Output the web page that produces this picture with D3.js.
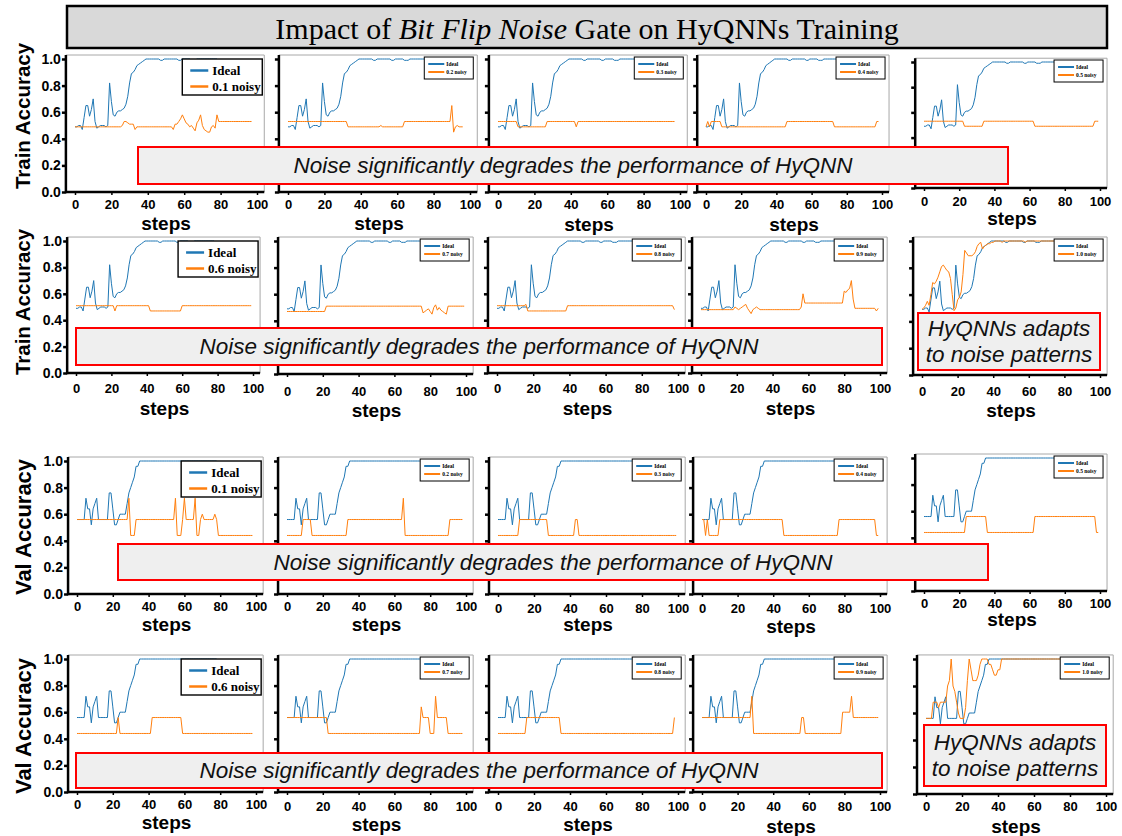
<!DOCTYPE html>
<html><head><meta charset="utf-8">
<script src="https://cdn.jsdelivr.net/npm/d3@7"></script>
<style>body{margin:0;background:#fff}svg{display:block}</style>
</head><body>
<svg id="c" width="1122" height="836"></svg>
<script>
// ---------------- DATA ----------------
const titleParts = ["Impact of ", "Bit Flip Noise", " Gate on HyQNNs Training"];
const yTicks = [0, 0.2, 0.4, 0.6, 0.8, 1.0];
const xTicks = [0, 20, 40, 60, 80, 100];
const noiseLevels = ["0.1","0.2","0.3","0.4","0.5","0.6","0.7","0.8","0.9","1.0"];
const metricLabels = ["Train Accuracy", "Val Accuracy"];
const xLabel = "steps";
const legendIdeal = "Ideal";
const annotationDegrade = "Noise significantly degrades the performance of HyQNN";
const annotationAdapt = ["HyQNNs adapts", "to noise patterns"];

const trainIdeal = [.49,.49,.50,.50,.47,.56,.65,.65,.57,.62,
.70,.53,.48,.49,.50,.50,.50,.49,.50,.82,
.68,.58,.57,.60,.61,.61,.62,.63,.66,.72,
.82,.89,.90,.92,.95,.96,.97,.98,.99,1,
1,1,1,1,1,1,1,.99,.99,1,
1,1,1,1,1,1,1,.99,.99,1,
1,1,1,1,.99,.99,.99,1,1,1,
1,1,1,1,1,1,1,1,1];

const valIdeal = [.56,.56,.56,.56,.56,.72,.64,.64,.52,.64,
.68,.72,.56,.56,.56,.56,.56,.56,.76,.76,
.64,.52,.52,.56,.60,.60,.60,.60,.68,.76,
.80,.84,.88,.96,.96,1,1,1,1,1,
1,1,1,1,1,1,1,1,1,1,
1,1,1,1,1,1,1,1,1,1,
1,1,1,1,1,1,1,1,1,1,
1,1,1,1,1,1,1,1,1];

const trainNoisy01 = [.49,.49,.49,.49,.49,.49,.49,.49,.49,.49,
.49,.49,.49,.49,.49,.49,.49,.49,.49,.49,
.49,.49,.49,.49,.49,.49,.50,.53,.53,.52,
.51,.51,.51,.47,.49,.49,.49,.49,.49,.49,
.49,.49,.49,.49,.49,.49,.49,.49,.49,.49,
.49,.49,.49,.49,.47,.51,.51,.53,.55,.58,
.55,.52,.51,.49,.50,.48,.46,.52,.54,.58,
.50,.47,.46,.45,.45,.49,.50,.48,.58,.53,
.53,.53,.53,.53,.53,.53,.53,.53,.53,.53,
.53,.53,.53,.53,.53,.53,.53,.53];

const trainNoisy02 = [.53,.53,.53,.53,.53,.53,.53,.53,.53,.53,
.53,.53,.53,.53,.53,.53,.53,.53,.53,.53,
.53,.53,.53,.53,.53,.53,.53,.53,.53,.53,
.53,.53,.53,.49,.49,.49,.49,.49,.49,.49,
.49,.49,.49,.49,.49,.49,.49,.49,.49,.49,
.49,.50,.49,.49,.49,.49,.49,.49,.49,.49,
.49,.49,.49,.49,.53,.53,.53,.53,.53,.53,
.53,.53,.53,.53,.53,.53,.53,.53,.53,.53,
.53,.53,.53,.53,.53,.53,.53,.53,.53,.53,
.65,.45,.49,.50,.49,.49,.49];

const trainNoisy03 = [.53,.53,.53,.53,.53,.53,.53,.53,.53,.53,
.53,.49,.49,.49,.49,.49,.49,.49,.49,.49,
.49,.49,.49,.49,.49,.49,.49,.53,.53,.53,
.53,.53,.53,.53,.53,.53,.53,.53,.53,.53,
.53,.53,.53,.49,.53,.53,.53,.53,.53,.53,
.53,.53,.53,.53,.53,.53,.53,.53,.53,.53,
.53,.53,.53,.53,.53,.53,.53,.53,.53,.53,
.53,.53,.53,.53,.53,.53,.53,.53,.53,.53,
.53,.53,.53,.53,.53,.53,.53,.53,.53,.53,
.53,.53,.53,.53,.53,.53,.53,.53];

const trainNoisy04 = [.49,.53,.49,.53,.53,.53,.53,.53,.53,.49,
.49,.49,.49,.49,.49,.49,.49,.49,.49,.49,
.49,.49,.49,.49,.49,.49,.49,.49,.49,.49,
.49,.49,.49,.49,.49,.49,.49,.49,.49,.49,
.49,.49,.49,.49,.49,.49,.53,.53,.53,.53,
.53,.53,.53,.53,.53,.53,.53,.53,.53,.53,
.53,.53,.53,.53,.53,.53,.53,.53,.53,.53,
.53,.53,.53,.49,.49,.49,.49,.49,.49,.49,
.49,.49,.49,.49,.49,.49,.49,.49,.49,.49,
.49,.49,.49,.49,.49,.49,.49,.53,.53];

const trainNoisy05 = [.53,.53,.53,.53,.53,.53,.53,.53,.53,.53,
.53,.53,.53,.53,.53,.53,.53,.53,.53,.53,
.53,.53,.53,.49,.49,.49,.49,.49,.49,.49,
.49,.49,.49,.49,.53,.53,.53,.53,.53,.53,
.53,.53,.53,.53,.53,.53,.53,.53,.53,.53,
.53,.53,.53,.53,.53,.53,.53,.53,.53,.53,
.53,.53,.53,.49,.49,.49,.49,.49,.49,.49,
.49,.49,.49,.49,.49,.49,.49,.49,.49,.49,
.49,.49,.49,.49,.49,.49,.49,.49,.49,.49,
.49,.49,.49,.49,.49,.49,.49,.53,.53,.53];

const trainNoisy06 = [.51,.51,.51,.51,.51,.51,.51,.51,.51,.51,
.51,.51,.51,.51,.51,.51,.51,.51,.51,.51,
.51,.51,.47,.51,.51,.51,.51,.51,.51,.51,
.51,.51,.51,.51,.51,.51,.51,.51,.51,.51,
.51,.51,.47,.47,.47,.47,.47,.47,.47,.47,
.47,.47,.47,.47,.47,.47,.47,.47,.47,.47,
.51,.51,.51,.51,.51,.51,.51,.51,.51,.51,
.51,.51,.51,.51,.51,.51,.51,.51,.51,.51,
.51,.51,.51,.51,.51,.51,.51,.51,.51,.51,
.51,.51,.51,.51,.51,.51,.51,.51,.51,.51];

const trainNoisy07 = [.47,.47,.47,.47,.47,.47,.47,.47,.47,.47,
.47,.47,.47,.47,.47,.47,.47,.47,.47,.47,
.47,.47,.51,.51,.51,.51,.51,.51,.51,.51,
.51,.51,.51,.51,.51,.51,.51,.51,.51,.51,
.51,.51,.51,.51,.51,.51,.51,.51,.51,.51,
.51,.51,.51,.51,.51,.51,.51,.51,.51,.51,
.51,.51,.51,.51,.51,.51,.51,.51,.51,.51,
.51,.51,.51,.51,.51,.51,.46,.47,.48,.49,
.47,.45,.50,.52,.48,.50,.48,.47,.46,.45,
.51,.51,.51,.51,.51,.51,.51,.51,.51,.51];

const trainNoisy08 = [.51,.51,.51,.51,.51,.51,.51,.51,.51,.51,
.51,.51,.51,.51,.51,.51,.52,.47,.47,.47,
.47,.47,.47,.47,.47,.47,.47,.47,.47,.47,
.47,.47,.47,.47,.47,.47,.47,.47,.47,.51,
.51,.51,.51,.51,.51,.51,.51,.51,.51,.51,
.51,.51,.51,.51,.51,.51,.51,.51,.51,.51,
.51,.51,.51,.51,.51,.51,.51,.51,.51,.51,
.51,.51,.51,.51,.51,.51,.51,.51,.51,.51,
.51,.51,.51,.51,.51,.51,.51,.51,.51,.51,
.51,.51,.51,.51,.51,.51,.51,.51,.48];

const trainNoisy09 = [.48,.48,.48,.48,.48,.48,.48,.48,.48,.48,
.48,.48,.48,.48,.48,.48,.48,.48,.48,.50,
.49,.48,.49,.50,.51,.52,.49,.47,.45,.48,
.49,.50,.49,.48,.48,.48,.48,.48,.48,.48,
.48,.48,.48,.48,.48,.48,.48,.48,.48,.48,
.48,.48,.48,.48,.48,.48,.50,.60,.53,.53,
.53,.53,.53,.53,.53,.53,.53,.53,.53,.53,
.53,.53,.53,.53,.53,.53,.53,.53,.53,.53,
.62,.61,.63,.64,.70,.56,.49,.49,.49,.49,
.49,.49,.49,.49,.49,.49,.49,.49,.47,.49];

const trainNoisy10 = [.49,.50,.52,.55,.52,.60,.69,.68,.70,.73,
.77,.81,.82,.80,.78,.77,.72,.60,.48,.50,
.56,.58,.62,.75,.93,.91,.89,.89,.89,.90,
.92,.96,.98,.99,.94,.96,.97,.98,.98,.99,
.99,1,1,1,1,.99,1,1,1,1,
1,1,1,1,1,1,1,1,.99,1,
1,1,1,1,1,1,1,1,1,1,
1,1,1,1,1,1,1,1,1];

const valNoisy01 = [.56,.56,.56,.56,.56,.56,.56,.56,.56,.56,
.56,.56,.56,.56,.56,.56,.56,.56,.56,.56,
.56,.56,.56,.56,.56,.56,.56,.56,.56,.72,
.44,.44,.44,.56,.56,.56,.56,.56,.56,.56,
.56,.56,.56,.56,.56,.56,.56,.56,.56,.56,
.56,.56,.56,.56,.56,.72,.44,.44,.44,.56,
.72,.56,.56,.56,.56,.56,.72,.44,.44,.56,
.60,.56,.56,.56,.56,.56,.56,.60,.56,.44,
.44,.44,.44,.44,.44,.44,.44,.44,.44,.44,
.44,.44,.44,.44,.44,.44,.44,.44,.44];

const valNoisy02 = [.44,.44,.44,.44,.44,.44,.44,.44,.44,.56,
.56,.56,.56,.56,.44,.44,.44,.44,.44,.44,
.44,.44,.44,.44,.44,.44,.44,.44,.44,.44,
.44,.44,.44,.44,.56,.56,.56,.56,.56,.56,
.56,.56,.56,.56,.56,.56,.56,.56,.56,.56,
.56,.56,.56,.56,.56,.56,.56,.56,.56,.56,
.56,.56,.56,.56,.56,.72,.44,.44,.44,.44,
.44,.44,.44,.44,.44,.44,.44,.44,.44,.44,
.44,.44,.44,.44,.44,.44,.44,.44,.44,.44,
.44,.56,.56,.56,.56,.56,.56,.56,.56];

const valNoisy03 = [.44,.44,.44,.44,.44,.44,.44,.44,.44,.44,
.44,.44,.56,.56,.56,.56,.56,.56,.56,.56,
.56,.56,.56,.56,.56,.56,.56,.56,.44,.44,
.44,.44,.44,.44,.44,.44,.44,.44,.44,.44,
.44,.44,.44,.56,.56,.44,.44,.44,.44,.44,
.44,.44,.44,.44,.44,.44,.44,.44,.44,.44,
.44,.44,.44,.44,.44,.44,.44,.44,.44,.44,
.44,.44,.44,.44,.44,.44,.44,.44,.44,.44,
.44,.44,.44,.44,.44,.44,.44,.44,.44,.44,
.44,.44,.44,.44,.44,.44,.44,.44,.44,.44];

const valNoisy04 = [.56,.56,.44,.56,.44,.44,.44,.44,.44,.44,
.56,.56,.56,.56,.56,.56,.56,.56,.56,.56,
.56,.56,.56,.56,.56,.56,.56,.56,.56,.56,
.56,.56,.56,.56,.56,.56,.56,.56,.56,.56,
.56,.56,.56,.56,.56,.56,.44,.44,.44,.44,
.44,.44,.44,.44,.44,.44,.44,.44,.44,.44,
.44,.44,.44,.44,.44,.44,.44,.44,.44,.44,
.44,.44,.44,.44,.44,.44,.44,.56,.56,.56,
.56,.56,.56,.56,.56,.56,.56,.56,.56,.56,
.56,.56,.56,.56,.56,.56,.56,.56,.44,.44];

const valNoisy05 = [.44,.44,.44,.44,.44,.44,.44,.44,.44,.44,
.44,.44,.44,.44,.44,.44,.44,.44,.44,.44,
.44,.44,.44,.44,.56,.56,.56,.56,.56,.56,
.56,.56,.56,.56,.56,.56,.44,.44,.44,.44,
.44,.44,.44,.44,.44,.44,.44,.44,.44,.44,
.44,.44,.44,.44,.44,.44,.44,.44,.44,.44,
.44,.44,.44,.56,.56,.56,.56,.56,.56,.56,
.56,.56,.56,.56,.56,.56,.56,.56,.56,.56,
.56,.56,.56,.56,.56,.56,.56,.56,.56,.56,
.56,.56,.56,.56,.56,.56,.56,.56,.44,.44];

const valNoisy06 = [.44,.44,.44,.44,.44,.44,.44,.44,.44,.44,
.44,.44,.44,.44,.44,.44,.44,.44,.44,.44,
.44,.44,.44,.56,.44,.44,.44,.44,.44,.44,
.44,.44,.44,.44,.44,.44,.44,.44,.44,.44,
.44,.44,.56,.56,.56,.56,.56,.56,.56,.56,
.56,.56,.56,.56,.56,.56,.56,.56,.56,.44,
.44,.44,.44,.44,.44,.44,.44,.44,.44,.44,
.44,.44,.44,.44,.44,.44,.44,.44,.44,.44,
.44,.44,.44,.44,.44,.44,.44,.44,.44,.44,
.44,.44,.44,.44,.44,.44,.44,.44,.44];

const valNoisy07 = [.56,.56,.56,.56,.56,.56,.56,.56,.56,.56,
.56,.56,.56,.56,.56,.56,.56,.56,.56,.56,
.56,.56,.56,.44,.44,.44,.44,.44,.44,.44,
.44,.44,.44,.44,.44,.44,.44,.44,.44,.44,
.44,.44,.44,.44,.44,.44,.44,.44,.44,.44,
.44,.44,.44,.44,.44,.44,.44,.44,.44,.44,
.44,.44,.44,.44,.44,.44,.44,.44,.44,.44,
.44,.44,.44,.44,.44,.64,.56,.56,.56,.56,
.44,.44,.44,.72,.56,.56,.56,.56,.56,.56,
.44,.44,.44,.44,.44,.44,.44,.44,.44];

const valNoisy08 = [.44,.44,.44,.44,.44,.44,.44,.44,.44,.44,
.44,.44,.44,.44,.44,.44,.56,.56,.56,.56,
.56,.56,.56,.56,.56,.56,.56,.56,.56,.56,
.56,.56,.56,.56,.56,.44,.44,.44,.44,.44,
.44,.44,.44,.44,.44,.44,.44,.44,.44,.44,
.44,.44,.44,.44,.44,.44,.44,.44,.44,.44,
.44,.44,.44,.44,.44,.44,.44,.44,.44,.44,
.44,.44,.44,.44,.44,.44,.44,.44,.44,.44,
.44,.44,.44,.44,.44,.44,.44,.44,.44,.44,
.44,.44,.44,.44,.44,.44,.44,.44,.56];

const valNoisy09 = [.56,.56,.56,.56,.56,.56,.56,.56,.56,.56,
.56,.56,.56,.56,.56,.56,.56,.56,.56,.56,
.56,.56,.56,.56,.56,.56,.56,.56,.72,.44,
.44,.44,.44,.44,.44,.44,.44,.44,.44,.44,
.44,.44,.44,.44,.44,.44,.44,.44,.44,.44,
.44,.44,.44,.44,.44,.44,.56,.56,.44,.44,
.44,.44,.44,.44,.44,.44,.44,.44,.44,.44,
.44,.44,.44,.44,.44,.44,.44,.44,.44,.60,
.60,.60,.60,.60,.72,.56,.56,.56,.56,.56,
.56,.56,.56,.56,.56,.56,.56,.56,.56,.56];

const valNoisy10 = [.56,.56,.56,.56,.68,.68,.68,.64,.68,.68,
.68,.68,.80,.84,1,.80,.76,.68,.60,.56,
.56,.56,.64,.84,1,.92,.84,.84,.84,.88,
.96,1,1,1,1,.96,.96,.92,.88,.88,
.92,.92,1,1,1,1,1,1,1,1,
1,1,1,1,1,1,1,1,1,1,
1,1,1,1,1,1,1,1,1,1,
1,1,1,1,1,1,1,1,1];

const trainNoisy = [trainNoisy01,trainNoisy02,trainNoisy03,trainNoisy04,trainNoisy05,
                    trainNoisy06,trainNoisy07,trainNoisy08,trainNoisy09,trainNoisy10];
const valNoisy = [valNoisy01,valNoisy02,valNoisy03,valNoisy04,valNoisy05,
                  valNoisy06,valNoisy07,valNoisy08,valNoisy09,valNoisy10];

// ---------------- LAYOUT (pixel placement of each sub-image) ----------------
const layout = [
  {x0:75,  x100:257, y1:59,  y0:192, tickY:204, stepsY:223},
  {x0:288, x100:470, y1:59,  y0:192, tickY:204, stepsY:223},
  {x0:498, x100:680, y1:59,  y0:192, tickY:204, stepsY:224},
  {x0:706, x100:882, y1:59,  y0:192, tickY:204, stepsY:224},
  {x0:924, x100:1100,y1:62,  y0:188, tickY:201, stepsY:218},
  {x0:76,  x100:253, y1:241, y0:373, tickY:388, stepsY:408},
  {x0:287, x100:466, y1:241, y0:374, tickY:391, stepsY:410},
  {x0:497, x100:678, y1:241, y0:373, tickY:388, stepsY:408},
  {x0:701, x100:880, y1:241, y0:373, tickY:388, stepsY:408},
  {x0:922, x100:1100,y1:241, y0:375, tickY:391, stepsY:410},
  {x0:77,  x100:256, y1:461, y0:594, tickY:606, stepsY:624},
  {x0:287, x100:466, y1:461, y0:594, tickY:606, stepsY:624},
  {x0:498, x100:678, y1:461, y0:594, tickY:608, stepsY:624},
  {x0:702, x100:880, y1:461, y0:594, tickY:608, stepsY:626},
  {x0:924, x100:1100,y1:458, y0:591, tickY:603, stepsY:619},
  {x0:77,  x100:256, y1:659, y0:792, tickY:804, stepsY:822},
  {x0:287, x100:466, y1:659, y0:792, tickY:806, stepsY:824},
  {x0:498, x100:678, y1:659, y0:792, tickY:806, stepsY:824},
  {x0:702, x100:880, y1:659, y0:792, tickY:806, stepsY:826},
  {x0:926, x100:1106,y1:659, y0:794, tickY:806, stepsY:826}
];
const axisTitles = [
  {text: metricLabels[0], x:22, y:116, size:20.5},
  {text: metricLabels[0], x:22, y:302, size:20.5},
  {text: metricLabels[1], x:23, y:527, size:22},
  {text: metricLabels[1], x:23, y:726, size:22}
];
const boxes = [
  {x:138, y:147, w:870, h:37, lines:[annotationDegrade]},
  {x:76,  y:328, w:806, h:37, lines:[annotationDegrade]},
  {x:918, y:313, w:182, h:57, lines:annotationAdapt},
  {x:118, y:544, w:870, h:36, lines:[annotationDegrade]},
  {x:76,  y:753, w:806, h:35, lines:[annotationDegrade]},
  {x:924, y:725, w:182, h:61, lines:annotationAdapt}
];

const BLUE = "#1f77b4", ORANGE = "#ff7f0e";
const svg = d3.select("#c");

// title
svg.append("rect").attr("x",67).attr("y",6).attr("width",1040).attr("height",42)
  .attr("fill","#d9d9d9").attr("stroke","#000").attr("stroke-width",2.5);
const tt = svg.append("text").attr("x",587).attr("y",28).attr("text-anchor","middle")
  .attr("dominant-baseline","central").attr("font-family","'Liberation Serif', serif")
  .attr("font-size",30).attr("fill","#000");
titleParts.forEach((s,i)=>tt.append("tspan").attr("font-style", i===1?"italic":"normal").text(s));

// panels
layout.forEach((p, i) => {
  const isVal = i >= 10;
  const k = i % 10;
  const col = i % 5;
  const ideal = isVal ? valIdeal : trainIdeal;
  const noisy = isVal ? valNoisy[k] : trainNoisy[k];
  const x = d3.scaleLinear().domain([0,100]).range([p.x0, p.x100]);
  const y = d3.scaleLinear().domain([0,1]).range([p.y0, p.y1]);
  const L = x(-5), R = x(104), T = y(1.03), B = p.y0;
  const g = svg.append("g");

  g.append("path").attr("d", `M${L},${T}H${R}V${B}`).attr("fill","none")
    .attr("stroke","#a8a8a8").attr("stroke-width",1);

  const line = d3.line().x((d,j)=>x(j)).y(d=>y(d));
  g.append("path").datum(ideal).attr("d",line).attr("fill","none").attr("stroke",BLUE).attr("stroke-width",1);
  g.append("path").datum(noisy).attr("d",line).attr("fill","none").attr("stroke",ORANGE).attr("stroke-width",1);

  const ya = g.append("g").attr("transform",`translate(${L},0)`)
    .call(d3.axisLeft(y).tickValues(yTicks).tickSize(4).tickSizeOuter(0).tickPadding(1)
      .tickFormat(col === 0 ? d3.format(".1f") : () => ""));
  ya.select(".domain").remove();
  ya.selectAll(".tick line").attr("stroke","#000").attr("stroke-width",2.5);
  ya.selectAll(".tick text").attr("font-family","'Liberation Sans', Arial, sans-serif")
    .attr("font-weight","bold").attr("font-size",14).attr("fill","#000");
  const fs = 13;
  const xa = g.append("g").attr("transform",`translate(0,${B})`)
    .call(d3.axisBottom(x).tickValues(xTicks).tickSize(3).tickSizeOuter(0)
      .tickPadding(p.tickY - B - 3 - 0.36*fs));
  xa.select(".domain").remove();
  xa.selectAll(".tick line").attr("stroke","#000").attr("stroke-width",1.5);
  xa.selectAll(".tick text").attr("font-family","'Liberation Sans', Arial, sans-serif")
    .attr("font-weight","bold").attr("font-size",fs).attr("fill","#000");
  g.append("line").attr("x1",L).attr("x2",L).attr("y1",T).attr("y2",B+1.2).attr("stroke","#000").attr("stroke-width",2.5);
  g.append("line").attr("x1",L).attr("x2",R).attr("y1",B).attr("y2",B).attr("stroke","#000").attr("stroke-width",2.5);
  g.append("text").attr("x",(p.x0+p.x100)/2).attr("y",p.stepsY).attr("text-anchor","middle")
    .attr("dominant-baseline","central").attr("font-family","'Liberation Sans', Arial, sans-serif")
    .attr("font-weight","bold").attr("font-size",19).text(xLabel);

  const big = (k === 0 || k === 5);
  const lw = big ? 80 : 49, lh = big ? 36 : 22;
  const bx = R - lw - (big ? 2 : 4), by = big ? y(1) : y(1) - 2;
  const lg = g.append("g");
  lg.append("rect").attr("x",bx).attr("y",by).attr("width",lw).attr("height",lh)
    .attr("fill","#fff").attr("stroke","#000").attr("stroke-width", big?1.4:1);
  const rows = [[legendIdeal, BLUE], [noiseLevels[k] + " noisy", ORANGE]];
  rows.forEach((r, j) => {
    const ry = big ? by + 11.5 + j*16 : by + 7 + j*8;
    lg.append("line").attr("x1", bx + (big?8:4)).attr("x2", bx + (big?26:20))
      .attr("y1",ry).attr("y2",ry).attr("stroke",r[1]).attr("stroke-width", big?2.5:2);
    lg.append("text").attr("x", bx + (big?30:22)).attr("y",ry).attr("dominant-baseline","central")
      .attr("font-family","'Liberation Serif', serif").attr("font-weight","bold")
      .attr("font-size", big?13:5.5).text(r[0]);
  });
});

boxes.forEach(b => {
  svg.append("rect").attr("x",b.x).attr("y",b.y).attr("width",b.w).attr("height",b.h)
    .attr("fill","#efefef").attr("stroke","#ff0000").attr("stroke-width",2);
  const n = b.lines.length;
  b.lines.forEach((s, j) => {
    svg.append("text").attr("x", b.x + b.w/2).attr("y", b.y + b.h/2 + (j - (n-1)/2) * 26)
      .attr("text-anchor","middle").attr("dominant-baseline","central")
      .attr("font-family","'Liberation Sans', Arial, sans-serif").attr("font-style","italic")
      .attr("font-size",22.5).attr("fill","#111").text(s);
  });
});

axisTitles.forEach(a => {
  svg.append("text").attr("transform",`translate(${a.x},${a.y}) rotate(-90)`)
    .attr("text-anchor","middle").attr("dominant-baseline","central")
    .attr("font-family","'Liberation Sans', Arial, sans-serif").attr("font-weight","bold")
    .attr("font-size",a.size).text(a.text);
});
</script>
</body></html>
